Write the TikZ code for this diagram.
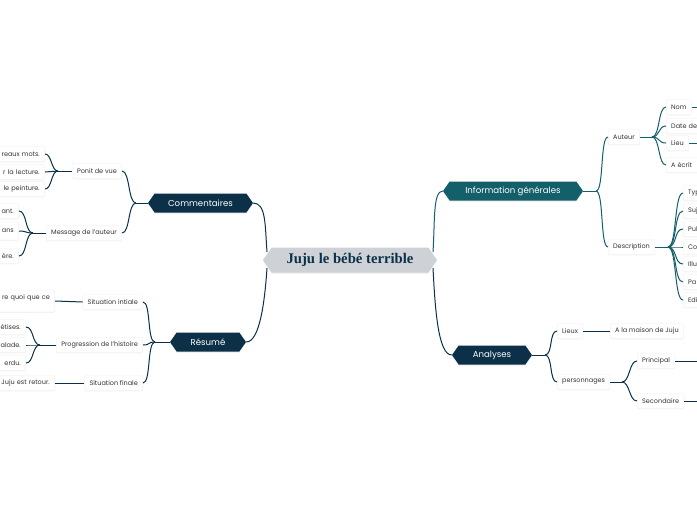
\documentclass[tikz,border=0pt]{standalone}
\usepackage{fontspec}
\setmainfont{Poppins}
\newfontfamily\titlefont{Liberation Serif}
\usetikzlibrary{shapes.symbols,shadows}
\definecolor{navy}{HTML}{0B3048}
\definecolor{teal}{HTML}{135F6A}
\definecolor{rootfill}{HTML}{CED2D7}
\definecolor{leaftext}{HTML}{333333}
\begin{document}
\begin{tikzpicture}[x=1pt,y=-1pt,
  leaf/.style={rectangle, rounded corners=2pt, fill=white, draw=black!7, line width=0.3pt,
    inner xsep=5pt, inner ysep=2pt, minimum height=15pt, text=leaftext,
    font=\fontsize{6.5}{8}\selectfont,
    drop shadow={shadow xshift=0pt, shadow yshift=-0.8pt, opacity=0.10}},
  hexa/.style={signal, signal to=east and west, signal pointer angle=110,
    text=white, minimum height=19pt, inner sep=0pt,
    font=\fontsize{8.6}{9}\selectfont,
    drop shadow={shadow xshift=0pt, shadow yshift=-1pt, opacity=0.15}},
  navyline/.style={draw=navy, line width=1pt},
  tealline/.style={draw=teal, line width=1pt}
]
\useasboundingbox (0,0) rectangle (697,520);
\fill[white] (0,0) rectangle (697,520);
\clip (0,0) rectangle (697,520);

% ---------- main nodes ----------
\node[hexa, fill=rootfill, text=navy, minimum width=174pt, minimum height=25pt,
  font=\titlefont\bfseries\fontsize{14.7}{15}\selectfont] (root) at (350,260) {Juju le bébé terrible};
\node[hexa, fill=navy, minimum width=105pt] (com) at (200.5,203) {Commentaires};
\node[hexa, fill=navy, minimum width=76pt] (res) at (208,342) {Résumé};
\node[hexa, fill=teal, minimum width=140pt] (info) at (513,191) {Information générales};
\node[hexa, fill=navy, minimum width=80pt] (ana) at (492,355) {Analyses};

\coordinate (rl1) at (267,252);
\coordinate (rl2) at (267,268);
\coordinate (rr1) at (433,252);
\coordinate (rr2) at (433,268);

% ---------- Commentaires branch ----------
\node[leaf, anchor=east] (pv) at (122,171) {Ponit de vue};
\node[leaf, anchor=east] (msg) at (122,233) {Message de l'auteur};
\node[leaf, anchor=east, text width=70pt, align=right] (pv1) at (45,154) {reaux mots.};
\node[leaf, anchor=east, text width=70pt, align=right] (pv2) at (45,172) {r la lecture.};
\node[leaf, anchor=east, text width=70pt, align=right] (pv3) at (45,189) {le peinture.};
\node[leaf, anchor=east, text width=40pt, align=right] (m1) at (19,211) {ant.};
\node[leaf, anchor=east, text width=40pt, align=right, minimum height=18pt] (m2) at (19,231) {ans};
\node[leaf, anchor=east, text width=40pt, align=right] (m3) at (19,256) {ère.};

\coordinate (jcom) at (136,203);
\coordinate (jpv) at (58,171);
\coordinate (jmsg) at (33,233);

% ---------- Résumé branch ----------
\node[leaf, anchor=east] (si) at (143,302) {Situation intiale};
\node[leaf, anchor=east] (pg) at (143,345) {Progression de l'histoire};
\node[leaf, anchor=east] (sf) at (143,383) {Situation finale};
\node[leaf, anchor=east, text width=80pt, align=left, minimum height=22pt] (si1) at (55,301) {\hfill re quoi que ce\\ \mbox{}};
\node[leaf, anchor=east, text width=40pt, align=right] (pg1) at (26,327) {étises.};
\node[leaf, anchor=east, text width=40pt, align=right] (pg2) at (26,345) {alade.};
\node[leaf, anchor=east, text width=40pt, align=right] (pg3) at (26,363) {erdu.};
\node[leaf, anchor=east, text width=70pt, align=right] (sf1) at (55,383) {Juju est retour.};

\coordinate (jres) at (155,342);
\coordinate (jpg) at (40,345);

% ---------- Information générales branch ----------
\node[leaf, anchor=west] (aut) at (608,137) {Auteur};
\node[leaf, anchor=west] (desc) at (608,247) {Description};
\node[leaf, anchor=west] (nom) at (666,107) {Nom};
\node[leaf, anchor=west, text width=40pt, align=left] (date) at (666,126) {Date de};
\node[leaf, anchor=west] (lieu) at (666,143) {Lieu};
\node[leaf, anchor=west, text width=40pt, align=left] (ecrit) at (666,165) {A écrit};
\coordinate (nomx) at (702,107);
\coordinate (lieux) at (702,143);

\node[leaf, anchor=west, text width=30pt, align=left] (d1) at (683,193) {Typ};
\node[leaf, anchor=west, text width=30pt, align=left] (d2) at (683,211) {Suj};
\node[leaf, anchor=west, text width=30pt, align=left] (d3) at (683,229) {Pub};
\node[leaf, anchor=west, text width=30pt, align=left] (d4) at (683,247) {Col};
\node[leaf, anchor=west, text width=30pt, align=left] (d5) at (683,264) {Illu};
\node[leaf, anchor=west, text width=30pt, align=left] (d6) at (683,282) {Pa};
\node[leaf, anchor=west, text width=30pt, align=left] (d7) at (683,300) {Edi};

\coordinate (jinfo) at (596,191);
\coordinate (jaut) at (652,137);
\coordinate (jdesc) at (668,247);

% ---------- Analyses branch ----------
\node[leaf, anchor=west] (lx) at (557,331) {Lieux};
\node[leaf, anchor=west] (maison) at (610,331) {A la maison de Juju};
\node[leaf, anchor=west] (pers) at (557,382) {personnages};
\node[leaf, anchor=west] (princ) at (637,361) {Principal};
\node[leaf, anchor=west] (sec) at (637,401) {Secondaire};
\coordinate (princx) at (702,361);
\coordinate (secx) at (702,401);
\coordinate (jana) at (545,355);
\coordinate (jpers) at (622,382);

% ---------- connectors ----------
% root to main
\draw[navyline] (com.east) .. controls +(13,0) and +(-2,-26) .. (rl1);
\draw[navyline] (res.east) .. controls +(14,0) and +(-2,30) .. (rl2);
\draw[tealline] (rr1) .. controls +(2,-30) and +(-10,0) .. (info.west);
\draw[navyline] (rr2) .. controls +(2,38) and +(-14,0) .. (ana.west);

% Commentaires
\draw[navyline] (com.west) -- (jcom);
\foreach \c in {pv,msg} \draw[navyline] (jcom) .. controls +(-8,0) and +(8,0) .. (\c.east);
\draw[navyline] (pv.west) -- (jpv);
\foreach \c in {pv1,pv2,pv3} \draw[navyline] (jpv) .. controls +(-7,0) and +(7,0) .. (\c.east);
\draw[navyline] (msg.west) -- (jmsg);
\foreach \c in {m1,m2,m3} \draw[navyline] (jmsg) .. controls +(-8,0) and +(8,0) .. (\c.east);

% Résumé
\draw[navyline] (res.west) -- (jres);
\foreach \c in {si,pg,sf} \draw[navyline] (jres) .. controls +(-8,0) and +(8,0) .. (\c.east);
\draw[navyline] (si.west) -- (si1.east);
\draw[navyline] (pg.west) -- (jpg);
\foreach \c in {pg1,pg2,pg3} \draw[navyline] (jpg) .. controls +(-8,0) and +(8,0) .. (\c.east);
\draw[navyline] (sf.west) -- (sf1.east);

% Information générales
\draw[tealline] (info.east) -- (jinfo);
\foreach \c in {aut,desc} \draw[tealline] (jinfo) .. controls +(8,0) and +(-8,0) .. (\c.west);
\draw[tealline] (aut.east) -- (jaut);
\foreach \c in {nom,date,lieu,ecrit} \draw[tealline] (jaut) .. controls +(8,0) and +(-8,0) .. (\c.west);
\draw[tealline] (nom.east) -- (nomx);
\draw[tealline] (lieu.east) -- (lieux);
\draw[tealline] (desc.east) -- (jdesc);
\foreach \c in {d1,d2,d3,d4,d5,d6,d7} \draw[tealline] (jdesc) .. controls +(9,0) and +(-9,0) .. (\c.west);

% Analyses
\draw[navyline] (ana.east) -- (jana);
\foreach \c in {lx,pers} \draw[navyline] (jana) .. controls +(8,0) and +(-8,0) .. (\c.west);
\draw[navyline] (lx.east) -- (maison.west);
\draw[navyline] (pers.east) -- (jpers);
\foreach \c in {princ,sec} \draw[navyline] (jpers) .. controls +(8,0) and +(-8,0) .. (\c.west);
\draw[navyline] (princ.east) -- (princx);
\draw[navyline] (sec.east) -- (secx);
\end{tikzpicture}
\end{document}
